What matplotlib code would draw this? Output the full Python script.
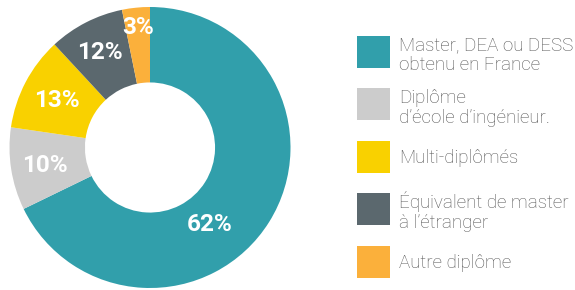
import numpy as np
import matplotlib
matplotlib.use("Agg")
import matplotlib.pyplot as plt
from matplotlib.patches import Rectangle

# ---- data ----
categories = [
    "Master, DEA ou DESS\nobtenu en France",
    "Diplôme\nd\u2019école d\u2019ingénieur.",
    "Multi-diplômés",
    "Équivalent de master\nà l\u2019étranger",
    "Autre diplôme",
]
slice_values = [67.8, 9.5, 10.8, 8.7, 3.2]      # drawn arc sizes
pct_labels = ["62%", "10%", "13%", "12%", "3%"]  # labels printed on the chart
colors = ["#319fab", "#cccccc", "#f9d100", "#5b686e", "#fbb03b"]

W, H = 575, 290
fig = plt.figure(figsize=(W / 100, H / 100), dpi=100)
fig.patch.set_facecolor("white")

# ---- donut ----
cx, cy, R = 150, 147.5, 140.5
ax = fig.add_axes([(cx - R) / W, (H - cy - R) / H, 2 * R / W, 2 * R / H])
wedges, _ = ax.pie(slice_values, colors=colors, startangle=90, counterclock=False,
                   radius=1.0, wedgeprops=dict(width=0.537, linewidth=0))
ax.set_xlim(-1, 1)
ax.set_ylim(-1, 1)
ax.set_aspect("auto")
ax.axis("off")

label_r = [0.685, 0.76, 0.75, 0.775, 0.87]
for i, (w, lab) in enumerate(zip(wedges, pct_labels)):
    if i == 0:
        ang = w.theta1 + 0.42 * (w.theta2 - w.theta1)
    else:
        ang = 0.5 * (w.theta1 + w.theta2)
    a = np.deg2rad(ang)
    ax.text(label_r[i] * np.cos(a), label_r[i] * np.sin(a) - 0.015, lab,
            ha="center", va="center", color="white", fontsize=17.5,
            fontweight="bold", family=["Roboto", "DejaVu Sans"])

# ---- legend (pixel coordinates) ----
lax = fig.add_axes([0, 0, 1, 1])
lax.set_xlim(0, W)
lax.set_ylim(H, 0)
lax.axis("off")
sq_x, sq_w, sq_h = 357, 33, 32
first_center, row_step = 52, 52.4
text_x = 399
for i, (lab, c) in enumerate(zip(categories, colors)):
    yc = first_center + i * row_step
    lax.add_patch(Rectangle((sq_x, yc - sq_h / 2), sq_w, sq_h, facecolor=c, edgecolor="none"))
    lines = lab.split("\n")
    n = len(lines)
    for k, line in enumerate(lines):
        yb = yc + 6 + k * 20 - (n - 1) * 7.5
        lax.text(text_x, yb, line, ha="left", va="baseline", color="#555555",
                 fontsize=13.5, fontweight="light", family=["Roboto", "DejaVu Sans"])

fig.savefig("out.png", dpi=100, facecolor="white")
